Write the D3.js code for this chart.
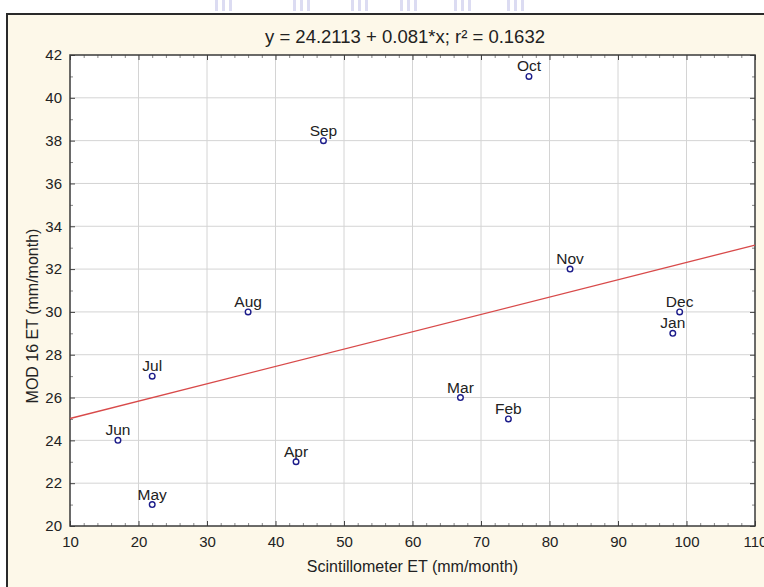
<!DOCTYPE html>
<html>
<head>
<meta charset="utf-8">
<script src="https://cdn.jsdelivr.net/npm/d3@7"></script>
<style>
  body { margin: 0; background: #fff; }
  svg { display: block; font-family: 'Liberation Sans', Arial, sans-serif; }
</style>
</head>
<body>
<svg id="chart" width="764" height="587"></svg>
<script>
// monthly ET, scintillometer vs MOD16
const months = ['Jan', 'Feb', 'Mar', 'Apr', 'May', 'Jun', 'Jul', 'Aug', 'Sep', 'Oct', 'Nov', 'Dec'];
const scintET = [98, 74, 67, 43, 22, 17, 22, 36, 47, 77, 83, 99];
const modET = [29, 25, 26, 23, 21, 24, 27, 30, 38, 41, 32, 30];

const xTicks = [10, 20, 30, 40, 50, 60, 70, 80, 90, 100, 110];
const yTicks = [20, 22, 24, 26, 28, 30, 32, 34, 36, 38, 40, 42];

// regression fit shown in title
const intercept = 24.2113;
const slope = 0.081;
const r2 = 0.1632;

const titleText = 'y = ' + intercept + ' + ' + slope + '*x; r\u00b2 = ' + r2;
const xTitle = 'Scintillometer ET (mm/month)';
const yTitle = 'MOD 16 ET (mm/month)';

// faint watermark bars above the frame
const watermarkGroups = [215, 293, 351, 400, 454, 507];

const data = months.map((m, i) => ({month: m, x: scintET[i], y: modET[i]}));

const svg = d3.select('#chart');
const plot = {left: 70, right: 755, top: 55, bottom: 526};

const xScale = d3.scaleLinear().domain([10, 110]).range([plot.left, plot.right]);
const yScale = d3.scaleLinear().domain([20, 42]).range([plot.bottom, plot.top]);

// watermark
watermarkGroups.forEach(gx => {
  svg.selectAll(null)
    .data([0, 7, 14])
    .enter()
    .append('rect')
    .attr('x', d => gx + d)
    .attr('y', 0)
    .attr('width', 3)
    .attr('height', 11)
    .style('fill', '#dcdcf2');
});

// outer frame
svg.append('rect')
  .attr('x', 7)
  .attr('y', 14)
  .attr('width', 800)
  .attr('height', 620)
  .style('fill', '#fdf8e9')
  .style('stroke', '#2a2a2a')
  .style('stroke-width', 2);

svg.append('rect')
  .attr('x', plot.left)
  .attr('y', plot.top)
  .attr('width', plot.right - plot.left)
  .attr('height', plot.bottom - plot.top)
  .style('fill', '#ffffff');

// grid
const gGrid = svg.append('g').attr('class', 'grid');
gGrid.selectAll('.vgrid')
  .data(xTicks.slice(1, -1))
  .enter()
  .append('line')
  .attr('x1', d => xScale(d))
  .attr('x2', d => xScale(d))
  .attr('y1', plot.top)
  .attr('y2', plot.bottom)
  .style('stroke', '#d4d4d4');
gGrid.selectAll('.hgrid')
  .data(yTicks.slice(1, -1))
  .enter()
  .append('line')
  .attr('x1', plot.left)
  .attr('x2', plot.right)
  .attr('y1', d => yScale(d))
  .attr('y2', d => yScale(d))
  .style('stroke', '#d4d4d4');

// minor ticks, pointing inward
const xMinor = d3.range(10, 111, 2).filter(v => v % 10 !== 0);
const yMinor = d3.range(20, 43, 1).filter(v => v % 2 !== 0);

const tickStyle = sel => sel.select('.domain').remove();

svg.append('g')
  .attr('transform', 'translate(0,' + plot.bottom + ')')
  .call(d3.axisBottom(xScale).tickValues(xMinor).tickSize(-3).tickFormat(''))
  .call(tickStyle)
  .selectAll('line').style('stroke', '#888');
svg.append('g')
  .attr('transform', 'translate(0,' + plot.top + ')')
  .call(d3.axisTop(xScale).tickValues(xMinor).tickSize(-3).tickFormat(''))
  .call(tickStyle)
  .selectAll('line').style('stroke', '#888');
svg.append('g')
  .attr('transform', 'translate(' + plot.left + ',0)')
  .call(d3.axisLeft(yScale).tickValues(yMinor).tickSize(-3).tickFormat(''))
  .call(tickStyle)
  .selectAll('line').style('stroke', '#888');
svg.append('g')
  .attr('transform', 'translate(' + plot.right + ',0)')
  .call(d3.axisRight(yScale).tickValues(yMinor).tickSize(-3).tickFormat(''))
  .call(tickStyle)
  .selectAll('line').style('stroke', '#888');

// major ticks on the right and top edges
svg.append('g')
  .attr('transform', 'translate(' + plot.right + ',0)')
  .call(d3.axisRight(yScale).tickValues(yTicks).tickSize(-5).tickFormat(''))
  .call(tickStyle)
  .selectAll('line').style('stroke', '#444');
svg.append('g')
  .attr('transform', 'translate(0,' + plot.top + ')')
  .call(d3.axisTop(xScale).tickValues(xTicks).tickSize(-5).tickFormat(''))
  .call(tickStyle)
  .selectAll('line').style('stroke', '#444');

// tick labels
const xAxis = svg.append('g')
  .attr('transform', 'translate(0,' + plot.bottom + ')')
  .call(d3.axisBottom(xScale).tickValues(xTicks).tickSize(5).tickPadding(5))
  .call(tickStyle);
xAxis.selectAll('line').style('stroke', '#444').attr('y2', -5);
xAxis.selectAll('text')
  .style('font-size', '15px')
  .style('fill', '#222')
  .style('font-family', 'Liberation Sans, Arial, sans-serif');

const yAxis = svg.append('g')
  .attr('transform', 'translate(' + plot.left + ',0)')
  .call(d3.axisLeft(yScale).tickValues(yTicks).tickSize(5).tickPadding(3))
  .call(tickStyle);
yAxis.selectAll('line').style('stroke', '#444').attr('x2', 5);
yAxis.selectAll('text')
  .style('font-size', '15px')
  .style('fill', '#222')
  .style('font-family', 'Liberation Sans, Arial, sans-serif');

// plot border
svg.append('rect')
  .attr('x', plot.left)
  .attr('y', plot.top)
  .attr('width', plot.right - plot.left)
  .attr('height', plot.bottom - plot.top)
  .style('fill', 'none')
  .style('stroke', '#3a3a3a')
  .style('stroke-width', 1.5);

// regression line
const fitLine = d3.line()
  .x(d => xScale(d))
  .y(d => yScale(intercept + slope * d));
svg.append('path')
  .datum(xScale.domain())
  .attr('d', fitLine)
  .style('fill', 'none')
  .style('stroke', '#d84a4a')
  .style('stroke-width', 1.3);

// month labels then points
svg.selectAll('.month_label')
  .data(data)
  .enter()
  .append('text')
  .attr('class', 'month_label')
  .attr('x', d => xScale(d.x))
  .attr('y', d => yScale(d.y) - 5)
  .attr('text-anchor', 'middle')
  .style('font-size', '15.5px')
  .style('fill', '#222')
  .text(d => d.month);

svg.selectAll('.point')
  .data(data)
  .enter()
  .append('circle')
  .attr('class', 'point')
  .attr('cx', d => xScale(d.x))
  .attr('cy', d => yScale(d.y))
  .attr('r', 2.8)
  .style('fill', '#fff')
  .style('stroke', '#1c1c8a')
  .style('stroke-width', 1.4);

// titles
svg.append('text')
  .attr('x', 405)
  .attr('y', 43)
  .attr('text-anchor', 'middle')
  .style('font-size', '18.5px')
  .style('fill', '#222')
  .text(titleText);

svg.append('text')
  .attr('x', (plot.left + plot.right) / 2)
  .attr('y', 572)
  .attr('text-anchor', 'middle')
  .style('font-size', '16px')
  .style('fill', '#222')
  .text(xTitle);

svg.append('text')
  .attr('transform', 'translate(38,316) rotate(-90)')
  .attr('text-anchor', 'middle')
  .style('font-size', '16px')
  .style('fill', '#222')
  .text(yTitle);
</script>
</body>
</html>
